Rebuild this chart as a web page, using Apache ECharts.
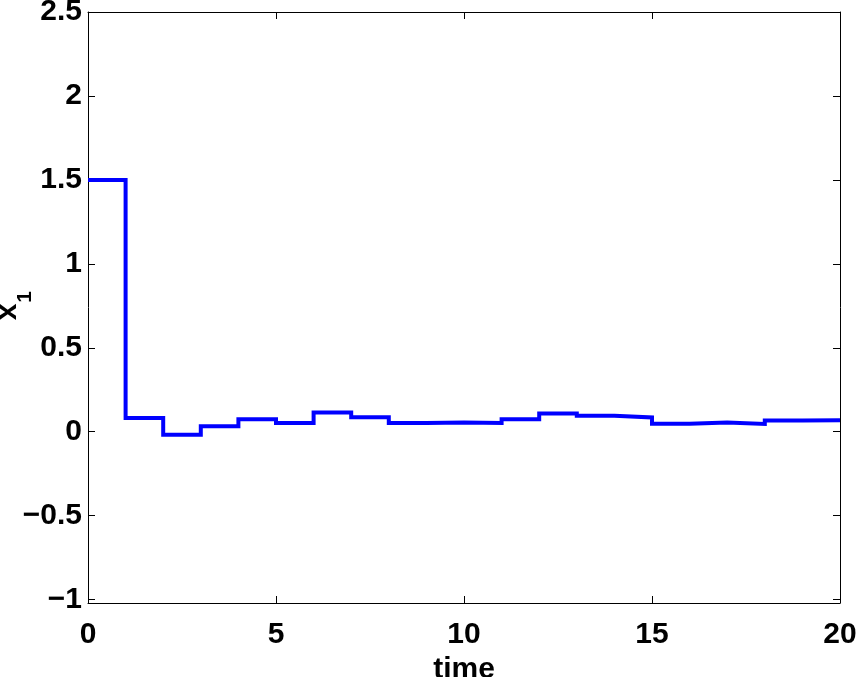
<!DOCTYPE html>
<html>
<head>
<meta charset="utf-8">
<script src="https://cdn.jsdelivr.net/npm/echarts@6/dist/echarts.min.js"></script>
<style>
html,body{margin:0;padding:0;background:#fff;}
#chart{width:857px;height:677px;}
</style>
</head>
<body>
<div id="chart"></div>
<script>
// Step start times and held values of x1 (zero-order hold)
const times = [0,1,2,3,4,5,6,7,8,9,10,11,12,13,14,15,16,17,18,19,20];
const x1Values = [1.5,0.082,-0.018,0.032,0.075,0.052,0.115,0.087,0.052,0.055,0.052,0.075,0.108,0.095,0.085,0.048,0.055,0.046,0.067,0.069,0.069];
const yTicks = [-1,-0.5,0,0.5,1,1.5,2,2.5];
const xTicks = [0,5,10,15,20];

const FONT = 'Liberation Sans';
const FS = 30;
const data = times.map((t,i)=>[t,x1Values[i]]);
const fmtY = v => (v<0 ? '\u2212' + String(-v) : String(v));

const chart = echarts.init(document.getElementById('chart'), null, {renderer:'canvas'});
const axisLineStyle = {color:'#000', width:1};
chart.setOption({
  animation:false,
  backgroundColor:'#fff',
  grid:{left:88, right:17, top:12, bottom:74, containLabel:false, outerBoundsMode:'none'},
  xAxis:[{
    type:'value', min:0, max:20, interval:5, position:'bottom',
    axisLine:{show:true, onZero:false, lineStyle:axisLineStyle},
    axisTick:{show:true, inside:true, length:7, lineStyle:axisLineStyle, customValues:xTicks},
    axisLabel:{show:true, margin:17, fontFamily:FONT, fontWeight:'bold', fontSize:FS, color:'#000', customValues:xTicks},
    splitLine:{show:false},
    name:'time', nameLocation:'middle', nameGap:50,
    nameTextStyle:{fontFamily:FONT, fontWeight:'bold', fontSize:FS, color:'#000'}
  },{
    type:'value', min:0, max:20, interval:5, position:'top',
    axisLine:{show:true, onZero:false, lineStyle:axisLineStyle},
    axisTick:{show:true, inside:true, length:7, lineStyle:axisLineStyle, customValues:xTicks},
    axisLabel:{show:false},
    splitLine:{show:false}
  }],
  yAxis:[{
    type:'value', min:-1.02, max:2.5, position:'left',
    axisLine:{show:true, onZero:false, lineStyle:axisLineStyle},
    axisTick:{show:true, inside:true, length:7, lineStyle:axisLineStyle, customValues:yTicks},
    axisLabel:{show:true, margin:6, fontFamily:FONT, fontWeight:'bold', fontSize:FS, color:'#000', customValues:yTicks, formatter:fmtY},
    splitLine:{show:false}
  },{
    type:'value', min:-1.02, max:2.5, position:'right',
    axisLine:{show:true, onZero:false, lineStyle:axisLineStyle},
    axisTick:{show:true, inside:true, length:7, lineStyle:axisLineStyle, customValues:yTicks},
    axisLabel:{show:false},
    splitLine:{show:false}
  }],
  series:[{
    type:'line', step:'end', data:data, xAxisIndex:0, yAxisIndex:0,
    showSymbol:false, symbol:'none',
    lineStyle:{color:'#0000ff', width:4, join:'miter', cap:'butt'},
    itemStyle:{color:'#0000ff'}
  }],
  graphic:[
    {type:'text', x:8, y:312, rotation:Math.PI/2, style:{text:'x', font:'bold 30px "Liberation Sans"', fill:'#000', textAlign:'center', textVerticalAlign:'middle'}},
    {type:'text', x:25, y:297, rotation:Math.PI/2, style:{text:'1', font:'bold 21px "Liberation Sans"', fill:'#000', textAlign:'center', textVerticalAlign:'middle'}}
  ]
});
</script>
</body>
</html>
